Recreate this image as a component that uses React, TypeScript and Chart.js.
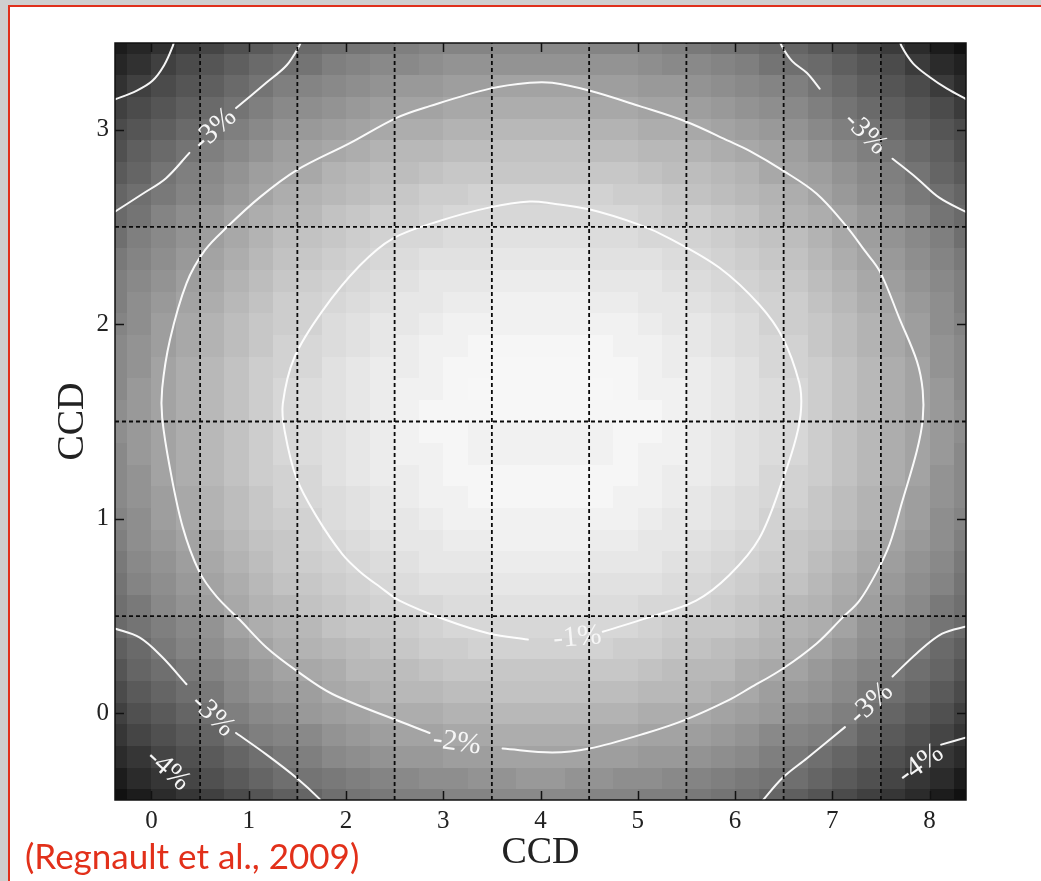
import React, { useEffect, useRef } from "react";
import { Chart, registerables } from "chart.js";

Chart.register(...registerables);

// ---------- data ----------
const xTicks = [0, 1, 2, 3, 4, 5, 6, 7, 8];
const yTicks = [0, 1, 2, 3];
const xMin = -0.375, xMax = 8.375;
const yMin = -4 / 9, yMax = 3 + 4 / 9;
const ccdXBoundaries = [0.5, 1.5, 2.5, 3.5, 4.5, 5.5, 6.5, 7.5];
const ccdYBoundaries = [0.5, 1.5, 2.5];
const cellsPerCcdX = 4;
const cellsPerCcdY = 9;

// flat-field variation (%) per cell, top row first, left to right
const flatFieldPct: number[][] = [
  [-4.6,-4.4,-4.2,-4.0,-3.8,-3.6,-3.4,-3.2,-3.1,-3.0,-2.9,-2.8,-2.7,-2.6,-2.6,-2.6,-2.5,-2.5,-2.5,-2.5,-2.6,-2.6,-2.6,-2.7,-2.8,-2.9,-3.0,-3.1,-3.2,-3.4,-3.6,-3.8,-4.0,-4.3,-4.6,-4.8],
  [-4.4,-4.2,-3.9,-3.7,-3.5,-3.3,-3.1,-3.0,-2.9,-2.7,-2.6,-2.5,-2.5,-2.4,-2.3,-2.3,-2.3,-2.3,-2.3,-2.3,-2.3,-2.3,-2.4,-2.5,-2.5,-2.6,-2.7,-2.9,-3.0,-3.1,-3.3,-3.5,-3.7,-4.0,-4.3,-4.5],
  [-4.2,-3.9,-3.7,-3.5,-3.3,-3.1,-2.9,-2.7,-2.6,-2.5,-2.4,-2.3,-2.2,-2.2,-2.1,-2.1,-2.0,-2.0,-2.0,-2.0,-2.1,-2.1,-2.2,-2.2,-2.3,-2.4,-2.5,-2.6,-2.7,-2.9,-3.1,-3.3,-3.5,-3.7,-4.0,-4.3],
  [-3.9,-3.7,-3.5,-3.3,-3.1,-2.9,-2.7,-2.5,-2.4,-2.3,-2.2,-2.1,-2.0,-2.0,-1.9,-1.9,-1.8,-1.8,-1.8,-1.8,-1.9,-1.9,-2.0,-2.0,-2.1,-2.2,-2.3,-2.4,-2.5,-2.7,-2.9,-3.1,-3.3,-3.5,-3.7,-4.0],
  [-3.7,-3.5,-3.3,-3.1,-2.9,-2.7,-2.5,-2.3,-2.2,-2.1,-2.0,-1.9,-1.8,-1.8,-1.7,-1.7,-1.6,-1.6,-1.6,-1.6,-1.7,-1.7,-1.8,-1.8,-1.9,-2.0,-2.1,-2.2,-2.3,-2.5,-2.7,-2.9,-3.1,-3.3,-3.5,-3.7],
  [-3.6,-3.3,-3.1,-2.9,-2.7,-2.5,-2.3,-2.1,-2.0,-1.9,-1.8,-1.7,-1.6,-1.6,-1.5,-1.5,-1.4,-1.4,-1.4,-1.4,-1.5,-1.5,-1.6,-1.6,-1.7,-1.8,-1.9,-2.0,-2.1,-2.3,-2.5,-2.7,-2.9,-3.1,-3.3,-3.6],
  [-3.4,-3.2,-2.9,-2.7,-2.5,-2.3,-2.1,-2.0,-1.9,-1.7,-1.6,-1.5,-1.5,-1.4,-1.3,-1.3,-1.3,-1.3,-1.3,-1.3,-1.3,-1.3,-1.4,-1.5,-1.5,-1.6,-1.7,-1.9,-2.0,-2.1,-2.3,-2.5,-2.7,-2.9,-3.2,-3.4],
  [-3.2,-3.0,-2.8,-2.6,-2.4,-2.2,-2.0,-1.8,-1.7,-1.6,-1.5,-1.4,-1.3,-1.2,-1.2,-1.1,-1.1,-1.1,-1.1,-1.1,-1.1,-1.2,-1.2,-1.3,-1.4,-1.5,-1.6,-1.7,-1.8,-2.0,-2.2,-2.4,-2.6,-2.8,-3.0,-3.2],
  [-3.1,-2.9,-2.6,-2.4,-2.2,-2.0,-1.8,-1.7,-1.6,-1.4,-1.3,-1.2,-1.2,-1.1,-1.0,-1.0,-1.0,-1.0,-1.0,-1.0,-1.0,-1.0,-1.1,-1.2,-1.2,-1.3,-1.4,-1.6,-1.7,-1.8,-2.0,-2.2,-2.4,-2.6,-2.9,-3.1],
  [-3.0,-2.7,-2.5,-2.3,-2.1,-1.9,-1.7,-1.5,-1.4,-1.3,-1.2,-1.1,-1.0,-1.0,-0.9,-0.9,-0.8,-0.8,-0.8,-0.8,-0.9,-0.9,-1.0,-1.0,-1.1,-1.2,-1.3,-1.4,-1.5,-1.7,-1.9,-2.1,-2.3,-2.5,-2.7,-3.0],
  [-2.8,-2.6,-2.4,-2.2,-2.0,-1.8,-1.6,-1.4,-1.3,-1.2,-1.1,-1.0,-0.9,-0.8,-0.8,-0.8,-0.7,-0.7,-0.7,-0.7,-0.8,-0.8,-0.8,-0.9,-1.0,-1.1,-1.2,-1.3,-1.4,-1.6,-1.8,-2.0,-2.2,-2.4,-2.6,-2.8],
  [-2.7,-2.5,-2.3,-2.1,-1.9,-1.7,-1.5,-1.3,-1.2,-1.1,-1.0,-0.9,-0.8,-0.7,-0.7,-0.7,-0.6,-0.6,-0.6,-0.6,-0.7,-0.7,-0.7,-0.8,-0.9,-1.0,-1.1,-1.2,-1.3,-1.5,-1.7,-1.9,-2.1,-2.3,-2.5,-2.7],
  [-2.7,-2.4,-2.2,-2.0,-1.8,-1.6,-1.4,-1.2,-1.1,-1.0,-0.9,-0.8,-0.7,-0.7,-0.6,-0.6,-0.5,-0.5,-0.5,-0.5,-0.6,-0.6,-0.7,-0.7,-0.8,-0.9,-1.0,-1.1,-1.2,-1.4,-1.6,-1.8,-2.0,-2.2,-2.4,-2.7],
  [-2.6,-2.4,-2.1,-1.9,-1.7,-1.5,-1.3,-1.2,-1.1,-0.9,-0.8,-0.7,-0.7,-0.6,-0.5,-0.5,-0.5,-0.5,-0.5,-0.5,-0.5,-0.5,-0.6,-0.7,-0.7,-0.8,-0.9,-1.1,-1.2,-1.3,-1.5,-1.7,-1.9,-2.1,-2.4,-2.6],
  [-2.5,-2.3,-2.1,-1.9,-1.7,-1.5,-1.3,-1.1,-1.0,-0.9,-0.8,-0.7,-0.6,-0.5,-0.5,-0.4,-0.4,-0.4,-0.4,-0.4,-0.4,-0.5,-0.5,-0.6,-0.7,-0.8,-0.9,-1.0,-1.1,-1.3,-1.5,-1.7,-1.9,-2.1,-2.3,-2.5],
  [-2.5,-2.3,-2.0,-1.8,-1.6,-1.4,-1.2,-1.1,-1.0,-0.8,-0.7,-0.6,-0.6,-0.5,-0.4,-0.4,-0.3,-0.3,-0.3,-0.3,-0.4,-0.4,-0.5,-0.6,-0.6,-0.7,-0.8,-1.0,-1.1,-1.2,-1.4,-1.6,-1.8,-2.0,-2.3,-2.5],
  [-2.5,-2.2,-2.0,-1.8,-1.6,-1.4,-1.2,-1.0,-0.9,-0.8,-0.7,-0.6,-0.5,-0.5,-0.4,-0.3,-0.3,-0.3,-0.3,-0.3,-0.3,-0.4,-0.5,-0.5,-0.6,-0.7,-0.8,-0.9,-1.0,-1.2,-1.4,-1.6,-1.8,-2.0,-2.2,-2.5],
  [-2.4,-2.2,-2.0,-1.8,-1.6,-1.4,-1.2,-1.0,-0.9,-0.8,-0.7,-0.6,-0.5,-0.4,-0.4,-0.4,-0.3,-0.3,-0.3,-0.3,-0.4,-0.4,-0.4,-0.5,-0.6,-0.7,-0.8,-0.9,-1.0,-1.2,-1.4,-1.6,-1.8,-2.0,-2.2,-2.4],
  [-2.4,-2.2,-2.0,-1.8,-1.6,-1.4,-1.2,-1.0,-0.9,-0.8,-0.7,-0.6,-0.5,-0.4,-0.4,-0.5,-0.5,-0.5,-0.5,-0.5,-0.5,-0.4,-0.4,-0.5,-0.6,-0.7,-0.8,-0.9,-1.0,-1.2,-1.4,-1.6,-1.8,-2.0,-2.2,-2.4],
  [-2.5,-2.2,-2.0,-1.8,-1.6,-1.4,-1.2,-1.0,-0.9,-0.8,-0.7,-0.6,-0.5,-0.5,-0.4,-0.5,-0.5,-0.5,-0.5,-0.5,-0.5,-0.4,-0.5,-0.5,-0.6,-0.7,-0.8,-0.9,-1.0,-1.2,-1.4,-1.6,-1.8,-2.0,-2.2,-2.5],
  [-2.5,-2.3,-2.0,-1.8,-1.6,-1.4,-1.2,-1.1,-1.0,-0.8,-0.7,-0.6,-0.6,-0.5,-0.4,-0.4,-0.4,-0.4,-0.4,-0.4,-0.4,-0.4,-0.5,-0.6,-0.6,-0.7,-0.8,-1.0,-1.1,-1.2,-1.4,-1.6,-1.8,-2.0,-2.3,-2.5],
  [-2.5,-2.3,-2.1,-1.9,-1.7,-1.5,-1.3,-1.1,-1.0,-0.9,-0.8,-0.7,-0.6,-0.5,-0.5,-0.4,-0.4,-0.4,-0.4,-0.4,-0.4,-0.5,-0.5,-0.6,-0.7,-0.8,-0.9,-1.0,-1.1,-1.3,-1.5,-1.7,-1.9,-2.1,-2.3,-2.5],
  [-2.6,-2.4,-2.1,-1.9,-1.7,-1.5,-1.3,-1.2,-1.1,-0.9,-0.8,-0.7,-0.7,-0.6,-0.5,-0.5,-0.5,-0.5,-0.5,-0.5,-0.5,-0.5,-0.6,-0.7,-0.7,-0.8,-0.9,-1.1,-1.2,-1.3,-1.5,-1.7,-1.9,-2.1,-2.4,-2.6],
  [-2.7,-2.4,-2.2,-2.0,-1.8,-1.6,-1.4,-1.3,-1.1,-1.0,-0.9,-0.8,-0.7,-0.7,-0.6,-0.6,-0.5,-0.5,-0.5,-0.5,-0.6,-0.6,-0.7,-0.7,-0.8,-0.9,-1.0,-1.1,-1.3,-1.4,-1.6,-1.8,-2.0,-2.2,-2.4,-2.7],
  [-2.8,-2.5,-2.3,-2.1,-1.9,-1.7,-1.5,-1.3,-1.2,-1.1,-1.0,-0.9,-0.8,-0.7,-0.7,-0.7,-0.6,-0.6,-0.6,-0.6,-0.7,-0.7,-0.7,-0.8,-0.9,-1.0,-1.1,-1.2,-1.3,-1.5,-1.7,-1.9,-2.1,-2.3,-2.5,-2.8],
  [-2.9,-2.6,-2.4,-2.2,-2.0,-1.8,-1.6,-1.4,-1.3,-1.2,-1.1,-1.0,-0.9,-0.8,-0.8,-0.8,-0.7,-0.7,-0.7,-0.7,-0.8,-0.8,-0.8,-0.9,-1.0,-1.1,-1.2,-1.3,-1.4,-1.6,-1.8,-2.0,-2.2,-2.4,-2.6,-2.9],
  [-3.0,-2.8,-2.5,-2.3,-2.1,-1.9,-1.7,-1.6,-1.4,-1.3,-1.2,-1.1,-1.0,-1.0,-0.9,-0.9,-0.8,-0.8,-0.8,-0.8,-0.9,-0.9,-1.0,-1.0,-1.1,-1.2,-1.3,-1.4,-1.6,-1.7,-1.9,-2.1,-2.3,-2.5,-2.8,-3.0],
  [-3.1,-2.9,-2.7,-2.5,-2.3,-2.0,-1.8,-1.7,-1.6,-1.4,-1.3,-1.3,-1.2,-1.1,-1.0,-1.0,-1.0,-1.0,-1.0,-1.0,-1.0,-1.0,-1.1,-1.2,-1.3,-1.3,-1.4,-1.6,-1.7,-1.8,-2.0,-2.3,-2.5,-2.7,-2.9,-3.1],
  [-3.3,-3.1,-2.8,-2.6,-2.4,-2.2,-2.0,-1.8,-1.7,-1.6,-1.5,-1.4,-1.3,-1.2,-1.2,-1.1,-1.1,-1.1,-1.1,-1.1,-1.1,-1.2,-1.2,-1.3,-1.4,-1.5,-1.6,-1.7,-1.8,-2.0,-2.2,-2.4,-2.6,-2.8,-3.1,-3.3],
  [-3.5,-3.2,-3.0,-2.8,-2.6,-2.4,-2.2,-2.0,-1.9,-1.8,-1.6,-1.6,-1.5,-1.4,-1.3,-1.3,-1.3,-1.3,-1.3,-1.3,-1.3,-1.3,-1.4,-1.5,-1.6,-1.6,-1.8,-1.9,-2.0,-2.2,-2.4,-2.6,-2.8,-3.0,-3.2,-3.5],
  [-3.7,-3.4,-3.2,-3.0,-2.8,-2.5,-2.3,-2.2,-2.1,-1.9,-1.8,-1.7,-1.6,-1.6,-1.5,-1.5,-1.4,-1.4,-1.4,-1.4,-1.5,-1.5,-1.6,-1.6,-1.7,-1.8,-1.9,-2.1,-2.2,-2.3,-2.5,-2.8,-3.0,-3.2,-3.4,-3.7],
  [-3.9,-3.6,-3.4,-3.2,-3.0,-2.7,-2.5,-2.4,-2.2,-2.1,-2.0,-1.9,-1.8,-1.8,-1.7,-1.7,-1.6,-1.6,-1.6,-1.6,-1.7,-1.7,-1.8,-1.8,-1.9,-2.0,-2.1,-2.2,-2.4,-2.5,-2.7,-3.0,-3.2,-3.4,-3.6,-3.9],
  [-4.1,-3.8,-3.6,-3.4,-3.2,-2.9,-2.7,-2.6,-2.5,-2.3,-2.2,-2.1,-2.0,-2.0,-1.9,-1.9,-1.8,-1.8,-1.8,-1.8,-1.9,-1.9,-2.0,-2.0,-2.1,-2.2,-2.3,-2.5,-2.6,-2.7,-2.9,-3.2,-3.4,-3.6,-3.8,-4.1],
  [-4.3,-4.1,-3.8,-3.6,-3.4,-3.2,-3.0,-2.8,-2.7,-2.5,-2.4,-2.3,-2.2,-2.2,-2.1,-2.1,-2.0,-2.0,-2.0,-2.0,-2.1,-2.1,-2.2,-2.2,-2.3,-2.4,-2.5,-2.7,-2.8,-3.0,-3.2,-3.4,-3.6,-3.8,-4.1,-4.3],
  [-4.6,-4.3,-4.1,-3.8,-3.6,-3.4,-3.2,-3.0,-2.9,-2.8,-2.7,-2.6,-2.5,-2.4,-2.4,-2.3,-2.3,-2.2,-2.2,-2.3,-2.3,-2.4,-2.4,-2.5,-2.6,-2.7,-2.8,-2.9,-3.0,-3.2,-3.4,-3.6,-3.8,-4.1,-4.3,-4.6],
  [-4.8,-4.6,-4.3,-4.1,-3.9,-3.7,-3.5,-3.3,-3.2,-3.0,-2.9,-2.8,-2.7,-2.7,-2.6,-2.6,-2.5,-2.5,-2.5,-2.5,-2.6,-2.6,-2.7,-2.7,-2.8,-2.9,-3.0,-3.2,-3.3,-3.5,-3.7,-3.9,-4.1,-4.3,-4.6,-4.8],
];

// contour paths (CCD units)
const contourMinus1: number[][] = [[4.64,0.42],[5.09,0.49],[5.60,0.58],[5.94,0.71],[6.25,0.90],[6.49,1.20],[6.63,1.42],[6.68,1.57],[6.66,1.70],[6.49,1.93],[6.25,2.10],[5.84,2.29],[5.33,2.44],[5.02,2.51],[4.50,2.59],[4.12,2.62],[3.89,2.63],[3.48,2.60],[2.96,2.53],[2.48,2.44],[2.14,2.30],[1.76,2.07],[1.47,1.83],[1.35,1.59],[1.37,1.45],[1.49,1.21],[1.70,1.01],[1.96,0.82],[2.14,0.73],[2.35,0.65],[2.55,0.58],[3.03,0.48],[3.48,0.41],[3.87,0.38]];
const contourMinus2: number[][] = [[3.61,-0.18],[4.12,-0.20],[4.50,-0.18],[5.09,-0.10],[5.50,-0.03],[5.94,0.07],[6.15,0.13],[6.49,0.23],[6.84,0.36],[7.10,0.49],[7.28,0.58],[7.46,0.73],[7.59,0.87],[7.72,1.09],[7.87,1.35],[7.93,1.51],[7.93,1.66],[7.87,1.81],[7.69,2.03],[7.49,2.27],[7.33,2.38],[7.15,2.50],[6.84,2.67],[6.49,2.79],[6.15,2.89],[5.94,2.94],[5.50,3.04],[5.02,3.12],[4.50,3.20],[4.12,3.24],[3.89,3.24],[3.48,3.21],[2.86,3.12],[2.52,3.06],[2.04,2.93],[1.49,2.79],[1.11,2.65],[0.78,2.50],[0.55,2.38],[0.36,2.21],[0.19,1.92],[0.11,1.67],[0.11,1.52],[0.19,1.26],[0.32,0.96],[0.49,0.73],[0.67,0.60],[0.91,0.48],[1.18,0.34],[1.49,0.22],[1.86,0.10],[2.55,-0.04],[2.86,-0.10]];
const contourMinus3TopLeftA: number[][] = [[-0.40,2.57],[-0.09,2.67],[0.15,2.75],[0.39,2.88]];
const contourMinus3TopLeftB: number[][] = [[0.87,3.11],[1.18,3.24],[1.39,3.33],[1.52,3.43],[1.55,3.47]];
const contourMinus3TopRightA: number[][] = [[6.45,3.47],[6.48,3.43],[6.59,3.35],[6.74,3.29],[6.87,3.21]];
const contourMinus3TopRightB: number[][] = [[7.62,2.85],[7.87,2.75],[8.10,2.65],[8.40,2.57]];
const contourMinus3BottomLeftA: number[][] = [[-0.40,0.44],[-0.12,0.39],[0.11,0.29],[0.36,0.15]];
const contourMinus3BottomLeftB: number[][] = [[0.87,-0.10],[1.18,-0.21],[1.49,-0.33],[1.73,-0.44],[1.77,-0.47]];
const contourMinus3BottomRightA: number[][] = [[6.25,-0.47],[6.28,-0.45],[6.49,-0.33],[6.74,-0.23],[7.13,-0.07]];
const contourMinus3BottomRightB: number[][] = [[7.62,0.19],[7.87,0.31],[8.13,0.41],[8.40,0.45]];
const contourMinus4TopLeft: number[][] = [[-0.40,3.15],[-0.15,3.20],[0.01,3.25],[0.13,3.33],[0.22,3.43],[0.24,3.47]];
const contourMinus4TopRight: number[][] = [[7.69,3.47],[7.71,3.43],[7.83,3.34],[8.00,3.27],[8.18,3.21],[8.40,3.15]];
const contourMinus4BottomRight: number[][] = [[8.12,-0.16],[8.40,-0.12]];

const contourPaths = [
  contourMinus1, contourMinus2,
  contourMinus3TopLeftA, contourMinus3TopLeftB, contourMinus3TopRightA, contourMinus3TopRightB,
  contourMinus3BottomLeftA, contourMinus3BottomLeftB, contourMinus3BottomRightA, contourMinus3BottomRightB,
  contourMinus4TopLeft, contourMinus4TopRight, contourMinus4BottomRight,
];

const contourLabelText = ["-3%", "-3%", "-1%", "-2%", "-3%", "-4%", "-3%", "-4%"];
const contourLabelX = [0.65, 7.34, 4.38, 3.14, 0.63, 0.17, 7.40, 7.91];
const contourLabelY = [3.00, 2.98, 0.39, -0.15, -0.01, -0.29, 0.05, -0.26];
const contourLabelAngle = [-43, 44, -5, 8, 44, 42, -42, -35];

const xTitle = "CCD";
const yTitle = "CCD";
const citation = "(Regnault et al., 2009)";

// ---------- styles ----------
const SERIF = "'Liberation Serif', 'Times New Roman', serif";
const grayOf = (pct: number) => {
  const g = Math.max(0, Math.min(247, Math.round(267 + 52 * pct)));
  return `rgb(${g},${g},${g})`;
};

const backgroundPlugin = {
  id: "slideFrame",
  beforeDraw(chart: any) {
    const { ctx, width, height } = chart;
    ctx.save();
    ctx.fillStyle = "#cfcfcf";
    ctx.fillRect(0, 0, width, height);
    ctx.fillStyle = "#ffffff";
    ctx.fillRect(9, 6, width - 9, height - 6);
    ctx.strokeStyle = "#e0301c";
    ctx.lineWidth = 2;
    ctx.beginPath();
    ctx.moveTo(9, height);
    ctx.lineTo(9, 6);
    ctx.lineTo(width, 6);
    ctx.stroke();
    ctx.restore();
  },
};

const heatmapPlugin = {
  id: "heatmap",
  beforeDatasetsDraw(chart: any) {
    const { ctx, chartArea, scales } = chart;
    const xs = scales.x, ys = scales.y;
    ctx.save();
    ctx.beginPath();
    ctx.rect(chartArea.left, chartArea.top, chartArea.right - chartArea.left, chartArea.bottom - chartArea.top);
    ctx.clip();
    const nRows = flatFieldPct.length;
    flatFieldPct.forEach((row, r) => {
      const j = nRows - 1 - r;
      const y0 = -0.5 + j / cellsPerCcdY;
      const y1 = -0.5 + (j + 1) / cellsPerCcdY;
      const pyTop = Math.round(ys.getPixelForValue(y1));
      const pyBot = Math.round(ys.getPixelForValue(y0));
      row.forEach((v, i) => {
        const x0 = -0.5 + i / cellsPerCcdX;
        const x1 = -0.5 + (i + 1) / cellsPerCcdX;
        const pxL = Math.round(xs.getPixelForValue(x0));
        const pxR = Math.round(xs.getPixelForValue(x1));
        ctx.fillStyle = grayOf(v);
        ctx.fillRect(pxL, pyTop, pxR - pxL, pyBot - pyTop);
      });
    });
    ctx.restore();
  },
};

const overlayPlugin = {
  id: "overlay",
  afterDatasetsDraw(chart: any) {
    const { ctx, chartArea, scales } = chart;
    const xs = scales.x, ys = scales.y;
    ctx.save();
    // contour labels
    ctx.fillStyle = "#f6f6f6";
    ctx.font = `29px ${SERIF}`;
    ctx.textAlign = "center";
    ctx.textBaseline = "middle";
    contourLabelText.forEach((t, k) => {
      const px = xs.getPixelForValue(contourLabelX[k]);
      const py = ys.getPixelForValue(contourLabelY[k]);
      ctx.save();
      ctx.translate(px, py);
      ctx.rotate((contourLabelAngle[k] * Math.PI) / 180);
      ctx.fillText(t, 0, 0);
      ctx.restore();
    });
    // frame
    ctx.strokeStyle = "#111";
    ctx.lineWidth = 1.5;
    ctx.strokeRect(chartArea.left, chartArea.top, chartArea.right - chartArea.left, chartArea.bottom - chartArea.top);
    // inward ticks
    const tl = 9;
    ctx.lineWidth = 1.5;
    ctx.beginPath();
    xTicks.forEach((v) => {
      const px = Math.round(xs.getPixelForValue(v)) + 0.5;
      ctx.moveTo(px, chartArea.bottom);
      ctx.lineTo(px, chartArea.bottom - tl);
      ctx.moveTo(px, chartArea.top);
      ctx.lineTo(px, chartArea.top + tl);
    });
    yTicks.forEach((v) => {
      const py = Math.round(ys.getPixelForValue(v)) + 0.5;
      ctx.moveTo(chartArea.left, py);
      ctx.lineTo(chartArea.left + tl, py);
      ctx.moveTo(chartArea.right, py);
      ctx.lineTo(chartArea.right - tl, py);
    });
    ctx.stroke();
    ctx.restore();
  },
  afterDraw(chart: any) {
    const { ctx } = chart;
    ctx.save();
    ctx.fillStyle = "#e2301a";
    ctx.font = "35px Lato, 'Open Sans', sans-serif";
    ctx.textAlign = "left";
    ctx.textBaseline = "alphabetic";
    ctx.fillText(citation, 25, 869);
    ctx.restore();
  },
};

export default function App() {
  const ref = useRef<HTMLCanvasElement>(null);

  useEffect(() => {
    if (!ref.current) return;
    const boundaryDatasets = [
      ...ccdXBoundaries.map((b) => ({
        data: [{ x: b, y: yMin }, { x: b, y: yMax }],
      })),
      ...ccdYBoundaries.map((b) => ({
        data: [{ x: xMin, y: b }, { x: xMax, y: b }],
      })),
    ].map((d) => ({
      ...d,
      showLine: true,
      borderColor: "#0a0a0a",
      borderWidth: 1.8,
      borderDash: [4, 3],
      pointRadius: 0,
      clip: 0,
      order: 1,
    }));
    const contourDatasets = contourPaths.map((path) => ({
      data: path.map(([x, y]) => ({ x, y })),
      showLine: true,
      borderColor: "rgba(255,255,255,0.95)",
      borderWidth: 2,
      borderCapStyle: "round",
      borderJoinStyle: "round",
      tension: 0.35,
      pointRadius: 0,
      clip: 0,
      order: 2,
    }));

    const tickFont = { family: SERIF, size: 25 };
    const chart = new Chart(ref.current, {
      type: "scatter",
      data: { datasets: [...boundaryDatasets, ...contourDatasets] as any },
      plugins: [backgroundPlugin, heatmapPlugin, overlayPlugin],
      options: {
        responsive: false,
        animation: false,
        events: [],
        layout: { padding: { left: 0, right: 75, top: 43, bottom: 0 } },
        plugins: { legend: { display: false }, tooltip: { enabled: false } },
        scales: {
          x: {
            type: "linear",
            min: xMin,
            max: xMax,
            afterBuildTicks: (s: any) => {
              s.ticks = xTicks.map((v) => ({ value: v }));
            },
            afterFit: (s: any) => {
              s.height = 81;
            },
            ticks: { font: tickFont, color: "#222", padding: 6, maxRotation: 0, autoSkip: false },
            grid: { display: false, drawTicks: false },
            border: { display: false },
            title: {
              display: true,
              text: xTitle,
              font: { family: SERIF, size: 38 },
              color: "#222",
              padding: { top: 0, bottom: 5 },
            },
          },
          y: {
            type: "linear",
            min: yMin,
            max: yMax,
            afterBuildTicks: (s: any) => {
              s.ticks = yTicks.map((v) => ({ value: v }));
            },
            afterFit: (s: any) => {
              s.width = 115;
            },
            ticks: { font: tickFont, color: "#222", padding: 6, autoSkip: false },
            grid: { display: false, drawTicks: false },
            border: { display: false },
            title: {
              display: true,
              text: yTitle,
              font: { family: SERIF, size: 38 },
              color: "#222",
              padding: { top: 50, bottom: 0 },
            },
          },
        },
      } as any,
    });
    return () => chart.destroy();
  }, []);

  return (
    <div style={{ position: "absolute", left: 0, top: 0, width: 1041, height: 881 }}>
      <canvas ref={ref} width={1041} height={881} style={{ display: "block" }} />
    </div>
  );
}
